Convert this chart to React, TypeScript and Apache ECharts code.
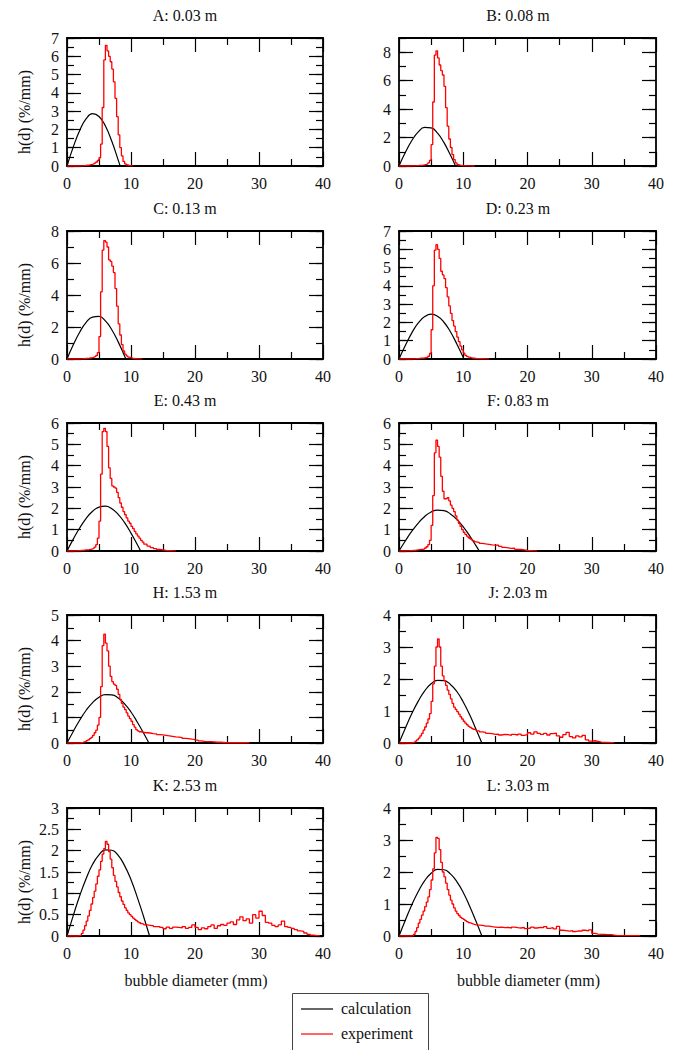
import React, { useEffect, useRef } from 'react';
import * as echarts from 'echarts';

const FONT = 'Liberation Serif';
const TEXT = '#111';

// ---- panel labels and axis scales ----
const titles = ['A: 0.03 m', 'B: 0.08 m', 'C: 0.13 m', 'D: 0.23 m', 'E: 0.43 m', 'F: 0.83 m', 'H: 1.53 m', 'J: 2.03 m', 'K: 2.53 m', 'L: 3.03 m'];
const yMaxes = [7, 9, 8, 7, 6, 6, 5, 4, 3, 4];
const yMajorSteps = [1, 2, 2, 1, 1, 1, 1, 1, 0.5, 1];
const yMinorSteps = [0.5, 1, 1, 0.5, 0.5, 0.5, 0.5, 0.5, 0.25, 0.5];
const xTicks = [0, 10, 20, 30, 40];

// ---- experiment histograms: 0.25 mm bins from 0 mm (core), then 0.5 mm bins (tail) ----
const expCoreA = [0, 0, 0, 0, 0, 0, 0, 0, 0.01, 0.01, 0.02, 0.03, 0.04, 0.05, 0.07, 0.09, 0.12, 0.16, 0.22, 0.3, 0.45, 1.2, 3.2, 5.8, 6.6, 6.3, 6.0, 5.7, 5.3, 4.6, 3.7, 2.7, 1.7, 1.0, 0.55, 0.25, 0.12, 0.06, 0.03, 0.01, 0.01, 0];
const expTailA: number[] = [];
const expCoreB = [0, 0, 0, 0, 0, 0, 0, 0, 0.01, 0.01, 0.02, 0.03, 0.04, 0.05, 0.06, 0.08, 0.11, 0.15, 0.22, 0.4, 1.5, 4.5, 7.8, 8.1, 7.6, 7.1, 6.7, 6.4, 5.6, 4.1, 2.8, 1.9, 1.3, 0.8, 0.45, 0.22, 0.12, 0.07, 0.04, 0.03, 0.02, 0.01, 0.01, 0.01, 0.01, 0, 0, 0];
const expTailB: number[] = [];
const expCoreC = [0, 0, 0, 0, 0, 0, 0, 0, 0.01, 0.01, 0.02, 0.03, 0.04, 0.05, 0.07, 0.09, 0.12, 0.16, 0.22, 0.4, 1.4, 4.2, 6.8, 7.4, 7.3, 7.0, 6.2, 6.1, 5.8, 5.4, 4.4, 3.3, 2.2, 1.5, 0.9, 0.5, 0.3, 0.2, 0.12, 0.08, 0.05, 0.03, 0.02, 0.01, 0.01, 0.01, 0.01, 0];
const expTailC: number[] = [];
const expCoreD = [0, 0, 0, 0, 0, 0, 0, 0, 0.01, 0.01, 0.02, 0.02, 0.03, 0.04, 0.05, 0.06, 0.08, 0.1, 0.15, 0.3, 1.6, 4.0, 5.95, 6.25, 6.0, 5.5, 4.8, 4.6, 4.4, 3.9, 3.4, 2.9, 2.5, 2.1, 1.8, 1.5, 1.2, 0.95, 0.7, 0.5, 0.32, 0.2, 0.14, 0.1, 0.07, 0.05, 0.04, 0.03];
const expTailD = [0.02, 0.02, 0.01, 0.01, 0];
const expCoreE = [0, 0, 0, 0, 0.01, 0.01, 0.02, 0.02, 0.03, 0.03, 0.04, 0.05, 0.05, 0.06, 0.08, 0.1, 0.13, 0.18, 0.3, 0.6, 1.4, 3.6, 5.6, 5.75, 5.6, 4.9, 3.9, 3.4, 3.05, 3.0, 2.95, 2.75, 2.5, 2.25, 2.05, 1.85, 1.7, 1.55, 1.4, 1.3, 1.15, 1.05, 0.92, 0.8, 0.7, 0.6, 0.5, 0.42];
const expTailE = [0.32, 0.23, 0.16, 0.11, 0.07, 0.05, 0.03, 0.02, 0.01, 0.01, 0];
const expCoreF = [0, 0, 0, 0, 0.01, 0.01, 0.02, 0.02, 0.03, 0.03, 0.04, 0.05, 0.06, 0.07, 0.08, 0.1, 0.14, 0.2, 0.3, 0.5, 1.2, 2.6, 4.6, 5.2, 4.9, 4.4, 3.5, 2.8, 2.45, 2.45, 2.5, 2.35, 2.15, 2.0, 1.85, 1.65, 1.45, 1.3, 1.15, 1.0, 0.88, 0.78, 0.7, 0.62, 0.57, 0.52, 0.47, 0.43];
const expTailF = [0.4, 0.36, 0.33, 0.31, 0.29, 0.28, 0.27, 0.22, 0.17, 0.15, 0.12, 0.13, 0.08, 0.07, 0.05, 0.03, 0.02, 0.01, 0.01, 0];
const expCoreH = [0, 0, 0, 0, 0, 0, 0, 0, 0.01, 0.02, 0.04, 0.06, 0.09, 0.12, 0.17, 0.22, 0.3, 0.4, 0.5, 0.7, 1.0, 2.2, 3.8, 4.25, 3.9, 3.6, 3.0, 2.6, 2.4, 2.3, 2.25, 2.1, 1.9, 1.7, 1.55, 1.4, 1.3, 1.18, 1.05, 0.95, 0.85, 0.72, 0.62, 0.52, 0.47, 0.44, 0.43, 0.41];
const expTailH = [0.4, 0.39, 0.37, 0.36, 0.33, 0.32, 0.3, 0.28, 0.26, 0.24, 0.23, 0.21, 0.18, 0.17, 0.15, 0.14, 0.11, 0.08, 0.06, 0.05, 0.05, 0.04, 0.03, 0.03, 0.02, 0.01, 0.01, 0.01, 0.01, 0.01, 0.01, 0.01, 0.01, 0];
const expCoreJ = [0, 0, 0, 0, 0, 0, 0, 0, 0.01, 0.03, 0.06, 0.1, 0.15, 0.22, 0.3, 0.4, 0.5, 0.62, 0.75, 0.92, 1.3, 1.85, 2.4, 3.0, 3.25, 3.0, 2.4, 2.1, 1.95, 1.8, 1.65, 1.52, 1.38, 1.24, 1.12, 1.05, 0.98, 0.9, 0.82, 0.75, 0.68, 0.62, 0.57, 0.52, 0.49, 0.46, 0.43, 0.41];
const expTailJ = [0.38, 0.35, 0.33, 0.3, 0.29, 0.27, 0.28, 0.25, 0.27, 0.26, 0.24, 0.27, 0.25, 0.28, 0.24, 0.26, 0.32, 0.28, 0.35, 0.3, 0.27, 0.3, 0.25, 0.29, 0.31, 0.22, 0.18, 0.26, 0.33, 0.2, 0.16, 0.22, 0.19, 0.24, 0.1, 0.06, 0.07, 0.05, 0.03, 0.02, 0.02, 0.01, 0.01, 0];
const expCoreK = [0, 0, 0, 0, 0, 0, 0, 0.01, 0.02, 0.06, 0.14, 0.24, 0.35, 0.47, 0.6, 0.75, 0.9, 1.05, 1.22, 1.4, 1.55, 1.75, 1.92, 2.05, 2.22, 2.15, 1.98, 1.8, 1.6, 1.42, 1.28, 1.15, 1.02, 0.92, 0.82, 0.74, 0.66, 0.6, 0.54, 0.5, 0.46, 0.42, 0.39, 0.36, 0.33, 0.31, 0.29, 0.28];
const expTailK = [0.26, 0.25, 0.24, 0.22, 0.22, 0.2, 0.17, 0.21, 0.18, 0.21, 0.2, 0.19, 0.22, 0.18, 0.2, 0.26, 0.2, 0.15, 0.19, 0.17, 0.22, 0.26, 0.18, 0.24, 0.27, 0.25, 0.3, 0.33, 0.27, 0.38, 0.45, 0.36, 0.4, 0.3, 0.5, 0.42, 0.58, 0.48, 0.32, 0.3, 0.25, 0.22, 0.26, 0.35, 0.22, 0.2, 0.18, 0.15, 0.12, 0.11, 0.07, 0.04, 0.02, 0.01, 0.01, 0.01];
const expCoreL = [0, 0, 0, 0, 0, 0, 0, 0, 0.01, 0.05, 0.14, 0.26, 0.4, 0.52, 0.65, 0.78, 0.92, 1.06, 1.22, 1.45, 1.75, 2.1, 2.6, 3.08, 3.05, 2.7, 2.3, 2.0, 1.85, 1.65, 1.45, 1.28, 1.12, 1.0, 0.88, 0.78, 0.7, 0.64, 0.58, 0.55, 0.52, 0.48, 0.45, 0.42, 0.4, 0.38, 0.36, 0.35];
const expTailL = [0.34, 0.33, 0.31, 0.31, 0.29, 0.28, 0.27, 0.28, 0.26, 0.27, 0.25, 0.28, 0.26, 0.25, 0.27, 0.23, 0.25, 0.28, 0.25, 0.27, 0.26, 0.29, 0.24, 0.26, 0.22, 0.3, 0.18, 0.17, 0.15, 0.17, 0.14, 0.16, 0.15, 0.18, 0.16, 0.19, 0.08, 0.06, 0.05, 0.05, 0.04, 0.04, 0.03, 0.01, 0.01, 0.01, 0.01, 0.01, 0.01, 0.01, 0.01, 0];

// ---- calculation curves: [diameter mm, h(d)] ----
const calcA = [[0, 0], [1, 1.06], [2, 1.96], [3, 2.59], [4, 2.86], [5, 2.71], [6, 2.19], [7, 1.35], [8, 0.32], [8.3, 0]];
const calcB = [[0, 0], [1, 0.96], [2, 1.79], [3, 2.4], [4, 2.71], [5, 2.68], [6, 2.31], [7, 1.64], [8, 0.77], [8.8, 0]];
const calcC = [[0, 0], [1, 0.9], [2, 1.69], [3, 2.29], [4, 2.62], [5, 2.66], [6, 2.38], [7, 1.83], [8, 1.07], [9, 0.18], [9.2, 0]];
const calcD = [[0, 0], [1, 0.75], [2, 1.43], [3, 1.97], [4, 2.32], [5, 2.45], [6, 2.34], [7, 2.01], [8, 1.49], [9, 0.82], [10, 0.08], [10.1, 0]];
const calcE = [[0, 0], [1, 0.57], [2, 1.09], [3, 1.53], [4, 1.86], [5, 2.06], [6, 2.1], [7, 1.98], [8, 1.72], [9, 1.33], [10, 0.84], [11, 0.29], [11.5, 0]];
const calcF = [[0, 0], [1, 0.48], [2, 0.93], [3, 1.31], [4, 1.62], [5, 1.83], [6, 1.92], [7, 1.89], [8, 1.74], [9, 1.48], [10, 1.13], [11, 0.71], [12, 0.24], [12.5, 0]];
const calcH = [[0, 0], [1, 0.46], [2, 0.9], [3, 1.28], [4, 1.58], [5, 1.79], [6, 1.89], [7, 1.88], [8, 1.76], [9, 1.53], [10, 1.21], [11, 0.81], [12, 0.37], [12.8, 0]];
const calcJ = [[0, 0], [1, 0.47], [2, 0.92], [3, 1.31], [4, 1.63], [5, 1.85], [6, 1.96], [7, 1.95], [8, 1.83], [9, 1.61], [10, 1.28], [11, 0.88], [12, 0.42], [12.9, 0]];
const calcK = [[0, 0], [1, 0.49], [2, 0.95], [3, 1.35], [4, 1.68], [5, 1.9], [6, 2.02], [7, 2.01], [8, 1.89], [9, 1.65], [10, 1.32], [11, 0.9], [12, 0.44], [12.9, 0]];
const calcL = [[0, 0], [1, 0.5], [2, 0.98], [3, 1.39], [4, 1.73], [5, 1.96], [6, 2.08], [7, 2.07], [8, 1.94], [9, 1.7], [10, 1.36], [11, 0.93], [12, 0.45], [12.9, 0]];

const expCores = [expCoreA, expCoreB, expCoreC, expCoreD, expCoreE, expCoreF, expCoreH, expCoreJ, expCoreK, expCoreL];
const expTails = [expTailA, expTailB, expTailC, expTailD, expTailE, expTailF, expTailH, expTailJ, expTailK, expTailL];
const calcs = [calcA, calcB, calcC, calcD, calcE, calcF, calcH, calcJ, calcK, calcL];

// ---- layout ----
const colLeft = [67, 399];
const colWidth = [256, 257];
const rowTop = [38, 231, 423, 615, 808];
const gridH = 128;
const titleX = [185, 518];

function expPoints(core: number[], tail: number[]) {
  const pts: number[][] = [];
  core.forEach((v, i) => pts.push([i * 0.25, v]));
  const start = core.length * 0.25;
  tail.forEach((v, j) => pts.push([start + j * 0.5, v]));
  return pts;
}

function buildOption() {
  const grid: any[] = [];
  const xAxis: any[] = [];
  const yAxis: any[] = [];
  const series: any[] = [];
  const graphic: any[] = [];
  const lineBlack = { color: '#000', width: 1.8 };
  const tickStyle = { color: '#000', width: 1.2 };
  const labelStyle = { fontFamily: FONT, fontSize: 16, color: TEXT };

  titles.forEach((title, i) => {
    const col = i % 2;
    const row = Math.floor(i / 2);
    grid.push({ left: colLeft[col], top: rowTop[row], width: colWidth[col], height: gridH, containLabel: false });
    const xBase = {
      gridIndex: i, type: 'value', min: xTicks[0], max: xTicks[xTicks.length - 1], interval: xTicks[1] - xTicks[0],
      axisLine: { show: true, onZero: false, lineStyle: lineBlack },
      axisTick: { show: true, inside: true, length: 14, lineStyle: tickStyle },
      minorTick: { show: true, splitNumber: 2, length: 7, lineStyle: tickStyle },
      splitLine: { show: false }, minorSplitLine: { show: false },
    };
    xAxis.push({ ...xBase, position: 'bottom', axisLabel: { show: true, margin: 9, ...labelStyle } });
    xAxis.push({ ...xBase, position: 'top', axisLabel: { show: false } });

    const yMax = yMaxes[i];
    const yBase = { gridIndex: i, type: 'value', min: 0, max: yMax, splitLine: { show: false } };
    const major = {
      ...yBase, interval: yMajorSteps[i],
      axisLine: { show: true, onZero: false, lineStyle: lineBlack },
      axisTick: { show: true, inside: true, length: 14, lineStyle: tickStyle },
    };
    const minor = {
      ...yBase, interval: yMinorSteps[i],
      axisLine: { show: false, onZero: false },
      axisTick: { show: true, inside: true, length: 7, lineStyle: tickStyle },
      axisLabel: { show: false },
    };
    const maxIsTick = Math.abs(yMax / yMajorSteps[i] - Math.round(yMax / yMajorSteps[i])) < 1e-9;
    yAxis.push({ ...major, position: 'left', axisLabel: { show: true, margin: 8, showMaxLabel: maxIsTick, ...labelStyle } });
    yAxis.push({ ...minor, position: 'left' });
    yAxis.push({ ...major, position: 'right', axisLabel: { show: false } });
    yAxis.push({ ...minor, position: 'right' });

    series.push({
      type: 'line', name: 'calculation', xAxisIndex: 2 * i, yAxisIndex: 4 * i, data: calcs[i],
      smooth: true, symbol: 'none', lineStyle: { color: '#000', width: 1.2 }, z: 2,
    });
    series.push({
      type: 'line', name: 'experiment', xAxisIndex: 2 * i, yAxisIndex: 4 * i, data: expPoints(expCores[i], expTails[i]),
      step: 'end', symbol: 'none', lineStyle: { color: '#ff0000', width: 1.3 }, z: 3,
    });

    graphic.push({
      type: 'text', x: titleX[col], y: rowTop[row] - 23,
      style: { text: title, fontFamily: FONT, fontSize: 16, fill: TEXT, align: 'center', verticalAlign: 'middle' },
    });
    if (col === 0) {
      graphic.push({
        type: 'text', x: 24.5, y: rowTop[row] + gridH / 2 + 10, rotation: Math.PI / 2,
        style: { text: 'h(d) (%/mm)', fontFamily: FONT, fontSize: 16, fill: TEXT, align: 'center', verticalAlign: 'middle' },
      });
    }
    if (row === 4) {
      graphic.push({
        type: 'text', x: colLeft[col] + colWidth[col] / 2 + 1, y: 980,
        style: { text: 'bubble diameter (mm)', fontFamily: FONT, fontSize: 16, fill: TEXT, align: 'center', verticalAlign: 'middle' },
      });
    }
  });

  // legend box
  graphic.push({ type: 'rect', shape: { x: 292.5, y: 993.5, width: 136, height: 70 }, style: { fill: 'none', stroke: '#444', lineWidth: 1 } });
  graphic.push({ type: 'line', shape: { x1: 301, y1: 1009, x2: 333, y2: 1009 }, style: { stroke: '#000', lineWidth: 1.2 } });
  graphic.push({ type: 'line', shape: { x1: 301, y1: 1034, x2: 333, y2: 1034 }, style: { stroke: '#ff0000', lineWidth: 1.2 } });
  graphic.push({ type: 'text', x: 341, y: 1008, style: { text: 'calculation', fontFamily: FONT, fontSize: 16, fill: TEXT, align: 'left', verticalAlign: 'middle' } });
  graphic.push({ type: 'text', x: 341, y: 1033, style: { text: 'experiment', fontFamily: FONT, fontSize: 16, fill: TEXT, align: 'left', verticalAlign: 'middle' } });

  return { animation: false, backgroundColor: '#fff', grid, xAxis, yAxis, series, graphic };
}

export default function App() {
  const ref = useRef<HTMLDivElement>(null);
  useEffect(() => {
    if (!ref.current) return;
    const chart = echarts.init(ref.current, undefined, { renderer: 'svg' });
    chart.setOption(buildOption() as any);
    return () => chart.dispose();
  }, []);
  return <div ref={ref} style={{ position: 'absolute', left: 0, top: 0, width: 676, height: 1050, background: '#fff' }} />;
}
